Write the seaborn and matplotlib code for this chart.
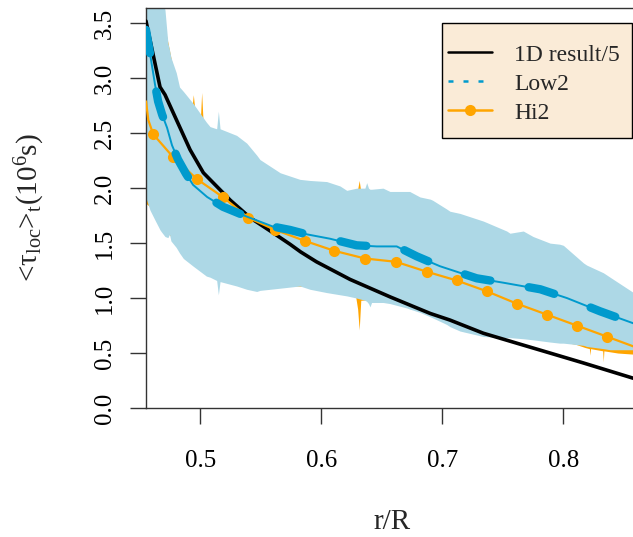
import numpy as np
import pandas as pd
import matplotlib
matplotlib.use("Agg")
import matplotlib.pyplot as plt
from matplotlib.lines import Line2D
from matplotlib.patches import Rectangle
import seaborn as sns

# ---------------- data ----------------
r_1d = [0.4551, 0.4667, 0.4708, 0.4915, 0.5025, 0.5248, 0.5413, 0.5606, 0.5741,
        0.5829, 0.5960, 0.6237, 0.6570, 0.6900, 0.7063, 0.7339, 0.7614, 0.7890,
        0.8165, 0.8580, 0.8620]
v_1d = [3.52, 2.92, 2.85, 2.35, 2.14, 1.89, 1.73, 1.59, 1.49,
        1.42, 1.33, 1.17, 1.01, 0.86, 0.80, 0.68, 0.59, 0.50,
        0.41, 0.27, 0.26]

r_low2 = [0.4551, 0.4576, 0.4601, 0.4626, 0.4651, 0.4684, 0.4725, 0.4766, 0.4816,
          0.4882, 0.4940, 0.5056, 0.5188, 0.5387, 0.5601, 0.5741, 0.5880, 0.6072,
          0.6292, 0.6457, 0.6623, 0.6788, 0.6980, 0.7146, 0.7284, 0.7504, 0.7810,
          0.8030, 0.8303, 0.8580, 0.8620]
v_low2 = [3.44, 3.28, 3.11, 2.94, 2.79, 2.67, 2.55, 2.39, 2.26,
          2.13, 2.03, 1.92, 1.83, 1.74, 1.65, 1.62, 1.58, 1.54,
          1.48, 1.47, 1.47, 1.38, 1.29, 1.23, 1.18, 1.14, 1.08,
          1.00, 0.88, 0.77, 0.75]

r_hi2 = [0.4551, 0.4570, 0.4611, 0.4777, 0.4975, 0.5185, 0.5397, 0.5620, 0.5865,
         0.6107, 0.6361, 0.6617, 0.6871, 0.7119, 0.7372, 0.7614, 0.7863, 0.8111,
         0.8359, 0.8580, 0.8620]
v_hi2 = [2.79, 2.62, 2.49, 2.28, 2.08, 1.92, 1.73, 1.62, 1.52,
         1.43, 1.36, 1.33, 1.24, 1.16, 1.06, 0.95, 0.85, 0.75,
         0.65, 0.56, 0.54]
hi2_marker_idx = list(range(2, 19))

# Low2 spread band
r_low2_band = [0.4551, 0.4584, 0.4625, 0.4667, 0.4680, 0.4708, 0.4732, 0.4745, 0.4757,
               0.4801, 0.4828, 0.4860, 0.4941, 0.5050, 0.5080, 0.5135, 0.5149, 0.5163,
               0.5300, 0.5383, 0.5466, 0.5493, 0.5660, 0.5823, 0.5906, 0.6044, 0.6154,
               0.6210, 0.6292, 0.6360, 0.6375, 0.6390, 0.6402, 0.6415, 0.6510, 0.6567,
               0.6706, 0.6730, 0.6815, 0.6900, 0.6920, 0.7036, 0.7063, 0.7146, 0.7340,
               0.7532, 0.7559, 0.7669, 0.7750, 0.7890, 0.7970, 0.8000, 0.8166, 0.8193,
               0.8331, 0.8386, 0.8580, 0.8620]
low2_upper = [4.50, 4.20, 3.95, 3.80, 3.75, 3.62, 3.32, 3.26, 3.19,
              3.05, 2.92, 2.88, 2.77, 2.60, 2.56, 2.54, 2.70, 2.54,
              2.48, 2.41, 2.30, 2.26, 2.14, 2.08, 2.07, 2.06, 2.02,
              1.98, 2.00, 2.00, 2.05, 2.00, 1.99, 1.99, 2.00, 1.97,
              1.97, 1.97, 1.92, 1.90, 1.89, 1.81, 1.79, 1.77, 1.70,
              1.61, 1.59, 1.61, 1.56, 1.50, 1.49, 1.48, 1.32, 1.30,
              1.23, 1.19, 1.05, 1.03]
low2_lower = [1.91, 1.80, 1.71, 1.62, 1.60, 1.56, 1.55, 1.58, 1.52,
              1.46, 1.41, 1.36, 1.29, 1.20, 1.19, 1.16, 1.03, 1.15,
              1.11, 1.08, 1.06, 1.07, 1.09, 1.11, 1.08, 1.05, 1.03,
              1.02, 1.00, 0.98, 0.97, 0.95, 0.92, 0.96, 0.96, 0.95,
              0.91, 0.90, 0.87, 0.83, 0.82, 0.76, 0.74, 0.70, 0.65,
              0.64, 0.64, 0.63, 0.62, 0.60, 0.59, 0.59, 0.57, 0.56,
              0.54, 0.53, 0.53, 0.52]

# Hi2 spread band (mostly hidden under the Low2 band)
r_hi2_band = [0.4551, 0.4575, 0.4584, 0.4700, 0.4800, 0.4930, 0.4942, 0.4954, 0.5000,
              0.5011, 0.5022, 0.5100, 0.5300, 0.5600, 0.6000, 0.6280, 0.6300, 0.6313,
              0.6326, 0.6600, 0.7000, 0.7400, 0.7800, 0.8000, 0.8100, 0.8180, 0.8215,
              0.8220, 0.8225, 0.8325, 0.8330, 0.8335, 0.8450, 0.8580, 0.8620]
hi2_upper = [3.90, 3.85, 3.80, 3.50, 2.95, 2.72, 2.85, 2.72, 2.62,
             2.87, 2.62, 2.50, 2.40, 2.10, 2.00, 1.95, 1.99, 2.07,
             1.97, 1.90, 1.75, 1.60, 1.45, 1.40, 1.35, 1.25, 1.22,
             1.22, 1.22, 1.15, 1.15, 1.15, 1.05, 0.95, 0.93]
hi2_lower = [1.86, 1.84, 1.83, 1.62, 1.52, 1.35, 1.34, 1.33, 1.28,
             1.27, 1.26, 1.22, 1.15, 1.12, 1.10, 1.04, 0.90, 0.71,
             0.98, 1.00, 0.81, 0.68, 0.64, 0.60, 0.58, 0.55, 0.54,
             0.48, 0.54, 0.52, 0.42, 0.52, 0.50, 0.49, 0.48]

legend_labels = ["1D result/5", "Low2", "Hi2"]
x_ticks = [0.5, 0.6, 0.7, 0.8]
y_ticks = [0.0, 0.5, 1.0, 1.5, 2.0, 2.5, 3.0, 3.5]

# ---------------- style ----------------
C_BLACK = "black"
C_BLUE = "#009ACD"
C_ORANGE = "#FFA500"
C_BAND = "#ADD8E6"

sns.set_style("ticks")
plt.rcParams["font.family"] = ["Liberation Serif", "DejaVu Serif"]
plt.rcParams["mathtext.fontset"] = "custom"
plt.rcParams["mathtext.rm"] = "Liberation Serif"
plt.rcParams["mathtext.it"] = "Liberation Serif:italic"
plt.rcParams["lines.scale_dashes"] = False

W, H = 633, 537
fig = plt.figure(figsize=(W / 100, H / 100), dpi=100)
ax_left, ax_right, ax_top, ax_bottom = 146, 638, 8, 408
ax = fig.add_axes([ax_left / W, 1 - ax_bottom / H, (ax_right - ax_left) / W,
                   (ax_bottom - ax_top) / H])

df_1d = pd.DataFrame({"r": r_1d, "v": v_1d})
df_lo = pd.DataFrame({"r": r_low2, "v": v_low2})
df_hi = pd.DataFrame({"r": r_hi2, "v": v_hi2})

# bands
ax.fill_between(r_hi2_band, hi2_lower, hi2_upper, color=C_ORANGE, lw=0, zorder=1)
ax.fill_between(r_low2_band, low2_lower, low2_upper, color=C_BAND, lw=0, zorder=2)

# lines
sns.lineplot(data=df_1d, x="r", y="v", ax=ax, color=C_BLACK, lw=2.6, zorder=5,
             estimator=None, sort=False)
sns.lineplot(data=df_hi, x="r", y="v", ax=ax, color=C_ORANGE, lw=1.6, zorder=6,
             estimator=None, sort=False, marker="o", markersize=8,
             markeredgewidth=0, markevery=hi2_marker_idx)
sns.lineplot(data=df_lo, x="r", y="v", ax=ax, color=C_BLUE, lw=1.4, zorder=7,
             estimator=None, sort=False)
sns.lineplot(data=df_lo, x="r", y="v", ax=ax, color=C_BLUE, lw=6.0, zorder=7,
             estimator=None, sort=False)
thick = ax.lines[-1]
thick.set_linestyle((2.0, (19.0, 28.0)))
thick.set_dash_capstyle("round")
thick.set_solid_capstyle("round")

ax.set_xlim(0.4551, 0.8617)
ax.set_ylim(0.0, 3.639)
ax.set_xticks(x_ticks)
ax.set_xticklabels([f"{t:.1f}" for t in x_ticks])
ax.set_yticks(y_ticks)
ax.set_yticklabels([f"{t:.1f}" for t in y_ticks], rotation=90, va="center")

for s in ["left", "top", "bottom"]:
    ax.spines[s].set_visible(True)
    ax.spines[s].set_color("#333333")
    ax.spines[s].set_linewidth(1.0)
ax.spines["right"].set_visible(False)

ax.tick_params(axis="both", direction="out", length=11.5, width=1.0,
               color="#333333", labelsize=18, labelcolor="black")
ax.tick_params(axis="x", pad=19)
ax.tick_params(axis="y", pad=10)

ax.set_xlabel("r/R", fontsize=21)
ax.set_ylabel(r"<$\mathrm{\tau}_{\mathrm{loc}}$>$_{\mathrm{t}}$(10$^{6}$s)", fontsize=21)
ax.xaxis.set_label_coords(0.5, -0.253)
ax.yaxis.set_label_coords((47 - ax_left) / (ax_right - ax_left), 0.5)

# legend box
rect = Rectangle((442 / W, 1 - 138 / H), 190 / W, 115 / H, transform=fig.transFigure,
                 facecolor="#FAEBD7", edgecolor="black", lw=1.0, zorder=10,
                 clip_on=False)
fig.patches.append(rect)

handles = [
    Line2D([], [], color=C_BLACK, lw=1.8),
    Line2D([], [], color=C_BLUE, lw=1.8, linestyle=(0, (3.6, 7.2))),
    Line2D([], [], color=C_ORANGE, lw=1.8, marker="o", markersize=8, markeredgewidth=0),
]
leg = fig.legend(handles, legend_labels, loc="upper left",
                 bbox_to_anchor=(448 / W, 1 - 44 / H), bbox_transform=fig.transFigure,
                 frameon=False, fontsize=17, borderpad=0, borderaxespad=0,
                 handlelength=1.86, handletextpad=0.93, labelspacing=0.32)
leg.set_zorder(11)

fig.savefig("out.png", dpi=100)
